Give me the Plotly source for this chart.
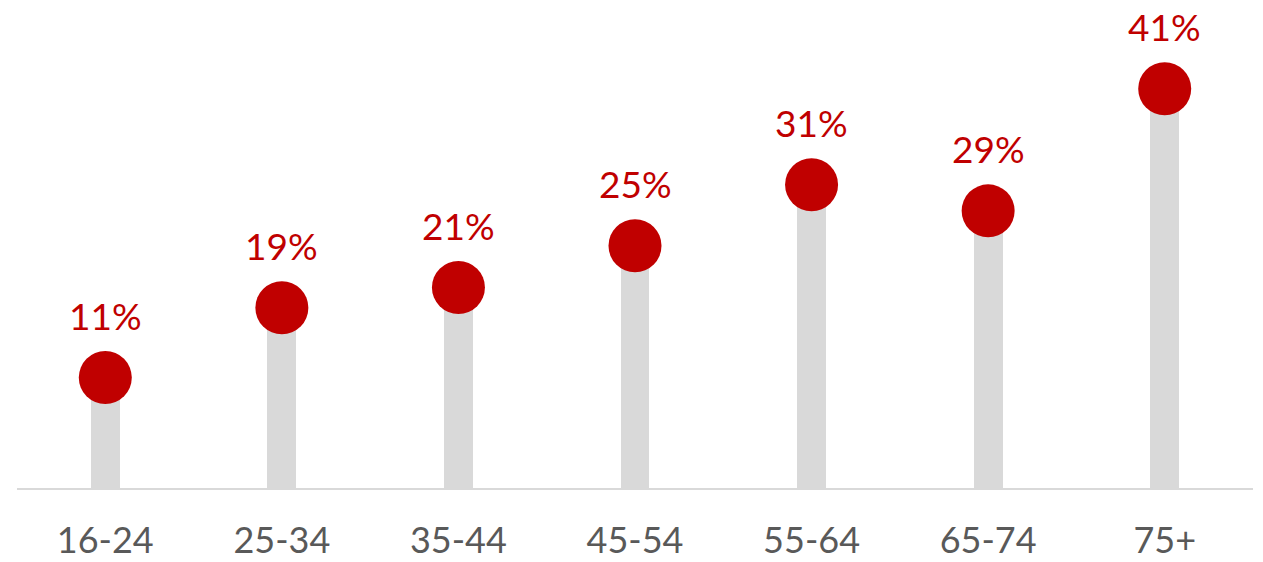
import plotly.graph_objects as go

categories = ["16-24", "25-34", "35-44", "45-54", "55-64", "65-74", "75+"]
values = [11.4, 18.6, 20.7, 25.0, 31.3, 28.6, 41.2]
labels = ["11%", "19%", "21%", "25%", "31%", "29%", "41%"]

RED = "#C00000"
GRAY = "#D9D9D9"

fig = go.Figure()
fig.add_trace(go.Bar(x=categories, y=values, width=0.164, marker=dict(color=GRAY, line=dict(width=0)),
                     hoverinfo="skip"))
fig.add_trace(go.Scatter(x=categories, y=values, mode="markers",
                         marker=dict(size=53, color=RED, line=dict(width=0))))

for c, v, t in zip(categories, values, labels):
    fig.add_annotation(x=c, y=v, text=t, showarrow=False, yshift=62, yanchor="middle",
                       font=dict(family="Lato", size=37, color=RED))

fig.update_layout(
    width=1263, height=562,
    margin=dict(l=17, r=10, t=0, b=73.5),
    paper_bgcolor="white", plot_bgcolor="white",
    showlegend=False,
    bargap=0,
    xaxis=dict(showline=True, linecolor=GRAY, linewidth=2, showgrid=False, zeroline=False,
               range=[-0.5, 6.5], automargin=False,
               tickfont=dict(family="Lato", size=36, color="#595959"), ticks="",
               ticklabelstandoff=20, fixedrange=True),
    yaxis=dict(range=[0, 50.36], visible=False, showgrid=False, zeroline=False, automargin=False),
)

fig.write_html("out.html")
